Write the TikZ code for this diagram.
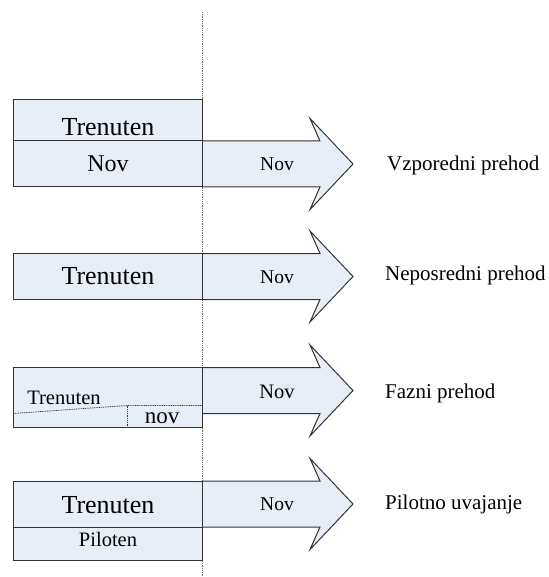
\documentclass[tikz,border=0pt]{standalone}
\usepackage{fontspec}
\setmainfont{Liberation Serif}
\begin{document}
\begin{tikzpicture}[x=1pt,y=-1pt,
  shapefill/.style={fill=paleblue,draw=edgegray,line width=1pt,line join=miter},
  fineline/.style={draw=edgegray,line width=1pt},
  dotline/.style={draw=edgegray,line width=0.8pt,dash pattern=on 1pt off 0.8pt},
  timeline/.style={draw=linegray,line width=0.9pt,dash pattern=on 1pt off 0.8pt},
  txt/.style={inner sep=0pt,anchor=base,text=black},
  lbl/.style={inner sep=0pt,anchor=base west,text=black,font=\fontsize{21}{25}\selectfont},
  big/.style={font=\fontsize{26}{30}\selectfont},
  bignov/.style={font=\fontsize{24}{28}\selectfont},
  mid/.style={font=\fontsize{20.5}{24}\selectfont},
  small/.style={font=\fontsize{19.5}{23}\selectfont}]
\definecolor{paleblue}{HTML}{E8EEF8}
\definecolor{edgegray}{HTML}{333333}
\definecolor{linegray}{HTML}{6E6E6E}
\useasboundingbox (0,0) rectangle (548,577);

% time line
\coordinate (tl0) at (202,12);
\coordinate (tl1) at (202,577);
\draw[timeline] (tl0) -- (tl1);

% arrow outline: shaft from x=202, head notch 320, outer 310, tip 353
\newcommand{\arrowrow}[2]{% #1 shaft top, #2 shaft bottom
  \path[shapefill] (202,#1) -- (320,#1) -- (310,{(#1+#2)/2-45.5}) -- (353,{(#1+#2)/2})
    -- (310,{(#1+#2)/2+45.5}) -- (320,#2) -- (202,#2) -- cycle;}

% row 1: parallel
\arrowrow{141}{187}
\path[shapefill] (13,100) rectangle (202,187);
\draw[fineline] (13,141) -- (202,141);
\node[txt,big] (r1a) at (108,135.5) {Trenuten};
\node[txt,bignov] (r1b) at (108,171.5) {Nov};
\node[txt,small] (r1c) at (277,171) {Nov};
\node[lbl] (r1l) at (387,170.5) {Vzporedni prehod};

% row 2: direct
\arrowrow{253.5}{299.5}
\path[shapefill] (13,253.5) rectangle (202,299.5);
\node[txt,big] (r2a) at (108,284) {Trenuten};
\node[txt,small] (r2c) at (277,283.3) {Nov};
\node[lbl] (r2l) at (385,280) {Neposredni prehod};

% row 3: phased
\arrowrow{367.5}{413.5}
\path[shapefill] (13,367.5) rectangle (202,427);
\draw[dotline] (13,413.5) -- (127,405.5) -- (202,405.5);
\draw[dotline] (127,405.5) -- (127,427);
\node[txt,mid] (r3a) at (64,404) {Trenuten};
\node[txt,font=\fontsize{23}{27}\selectfont] (r3b) at (162,423.3) {nov};
\node[txt,font=\fontsize{20.5}{24}\selectfont] (r3c) at (277,398.3) {Nov};
\node[lbl] (r3l) at (385,398.3) {Fazni prehod};

% row 4: pilot
\arrowrow{481}{527}
\path[shapefill] (13,481) rectangle (202,560);
\draw[fineline] (13,527) -- (202,527);
\node[txt,big] (r4a) at (108,513.3) {Trenuten};
\node[txt,mid] (r4b) at (108,546.7) {Piloten};
\node[txt,small] (r4c) at (277,510.5) {Nov};
\node[lbl] (r4l) at (385,509.3) {Pilotno uvajanje};
\end{tikzpicture}
\end{document}
